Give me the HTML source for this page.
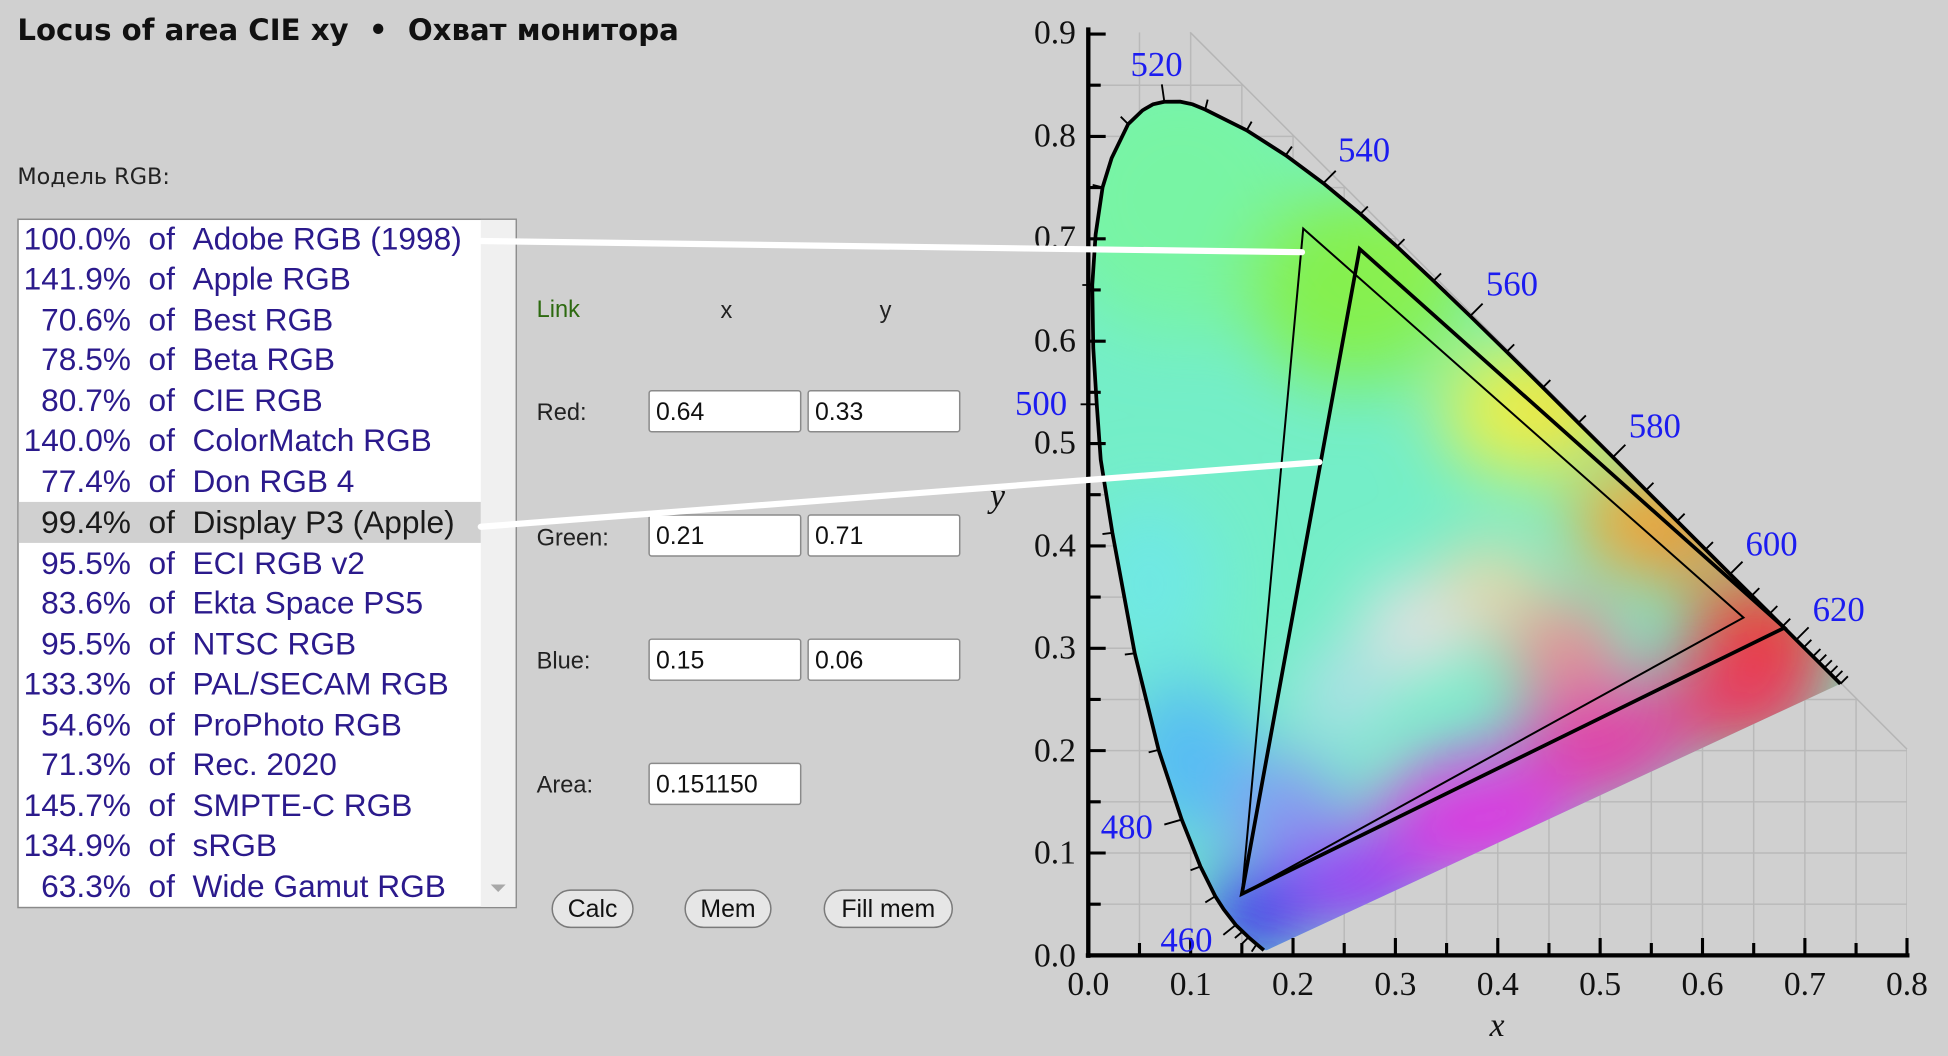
<!DOCTYPE html>
<html><head><meta charset="utf-8"><style>
html,body{margin:0;padding:0;background:#d0d0d0;}
svg{display:block;}
</style></head><body>
<svg width="1948" height="1056" viewBox="0 0 1568 850" preserveAspectRatio="none" xmlns="http://www.w3.org/2000/svg">
<defs>
<path id="lp" d="M1017.3,764.8 L1011.5,760 L1005,754.4 L994.7,744.5 L985,732 L978.2,721.4 L966.3,697.5 L951.2,659.7 L932.6,603.6 L913.4,525.9 L895.4,428.9 L886,370 L882.8,325.4 L880,280 L879.2,229.4 L881.9,188.7 L887.5,150.8 L894.8,127.2 L908.1,99.9 L919.7,88.8 L928,84 L937.2,81.9 L949.8,81.8 L960,84 L970.1,88.2 L1003.5,104.9 L1034.9,125 L1065.2,147.5 L1095,172.2 L1124.5,198.5 L1153.9,226.1 L1183.4,254.4 L1212.8,283.2 L1241.9,311.9 L1270.5,340.4 L1298.3,368 L1324.9,394.6 L1350,419.5 L1372.8,442.3 L1392.6,462.1 L1410.1,479.4 L1424.6,493.8 L1445.8,515 L1459.3,528.4 L1468.5,537.5 L1481.4,550.4"/>
<clipPath id="loc"><path d="M1019.5,764.9 L1017.3,764.8 L1011.5,760 L1005,754.4 L994.7,744.5 L985,732 L978.2,721.4 L966.3,697.5 L951.2,659.7 L932.6,603.6 L913.4,525.9 L895.4,428.9 L886,370 L882.8,325.4 L880,280 L879.2,229.4 L881.9,188.7 L887.5,150.8 L894.8,127.2 L908.1,99.9 L919.7,88.8 L928,84 L937.2,81.9 L949.8,81.8 L960,84 L970.1,88.2 L1003.5,104.9 L1034.9,125 L1065.2,147.5 L1095,172.2 L1124.5,198.5 L1153.9,226.1 L1183.4,254.4 L1212.8,283.2 L1241.9,311.9 L1270.5,340.4 L1298.3,368 L1324.9,394.6 L1350,419.5 L1372.8,442.3 L1392.6,462.1 L1410.1,479.4 L1424.6,493.8 L1445.8,515 L1459.3,528.4 L1468.5,537.5 L1481.4,550.4 Z"/></clipPath>
<clipPath id="gclip"><path d="M876,26 L958,26 L1535,603 L1535,769 L876,769 Z"/></clipPath>
<filter id="bl" x="-50%" y="-50%" width="200%" height="200%"><feGaussianBlur stdDeviation="28"/></filter>
</defs>
<rect width="1568" height="850" fill="#d0d0d0"/>
<g clip-path="url(#gclip)" stroke="#b9b9b9" stroke-width="1.2">
<path d="M917.2,26V769M958.4,26V769M999.6,26V769M1040.8,26V769M1082,26V769M1123.2,26V769M1164.4,26V769M1205.6,26V769M1246.8,26V769M1288,26V769M1329.2,26V769M1370.4,26V769M1411.6,26V769M1452.8,26V769M1494,26V769M1535,26V769"/>
<path d="M876,727.8H1535M876,686.6H1535M876,645.4H1535M876,604.2H1535M876,563H1535M876,521.8H1535M876,480.6H1535M876,439.4H1535M876,398.2H1535M876,357H1535M876,315.8H1535M876,274.6H1535M876,233.4H1535M876,192.2H1535M876,151H1535M876,109.8H1535M876,68.6H1535"/>
</g>
<path d="M958,26 L1535,603" stroke="#b5b5b5" stroke-width="1.2"/>
<g clip-path="url(#loc)">
<rect x="860" y="60" width="640" height="720" fill="#74eec8"/>
<g filter="url(#bl)">
<ellipse cx="950" cy="160" rx="110" ry="110" fill="#78f4a4"/>
<ellipse cx="1090" cy="230" rx="90" ry="80" fill="#84f050"/>
<ellipse cx="1150" cy="200" rx="50" ry="40" fill="#90f050"/>
<ellipse cx="1230" cy="330" rx="70" ry="55" fill="#e8f04c"/>
<ellipse cx="1270" cy="330" rx="40" ry="30" fill="#f0e040"/>
<ellipse cx="1325" cy="420" rx="60" ry="45" fill="#f0a838"/>
<ellipse cx="1360" cy="440" rx="40" ry="30" fill="#f09030"/>
<ellipse cx="1420" cy="510" rx="60" ry="45" fill="#ea3c30"/>
<ellipse cx="1400" cy="565" rx="70" ry="40" fill="#e83a60"/>
<ellipse cx="1290" cy="600" rx="70" ry="50" fill="#e040a8"/>
<ellipse cx="1190" cy="660" rx="80" ry="55" fill="#d83ce0"/>
<ellipse cx="1090" cy="710" rx="60" ry="40" fill="#9c34f4"/>
<ellipse cx="1010" cy="735" rx="40" ry="35" fill="#3018f0"/>
<ellipse cx="1030" cy="650" rx="50" ry="40" fill="#8a90f4"/>
<ellipse cx="955" cy="610" rx="55" ry="65" fill="#56bcf4"/>
<ellipse cx="925" cy="470" rx="55" ry="70" fill="#70e8e4"/>
<ellipse cx="1140" cy="505" rx="45" ry="40" fill="#e6e0e4"/>
<ellipse cx="1080" cy="560" rx="35" ry="35" fill="#b8dcec"/>
<ellipse cx="1200" cy="470" rx="40" ry="35" fill="#ecd8a8"/>
<ellipse cx="1260" cy="520" rx="50" ry="35" fill="#ec8a90"/>
</g>
</g>
<use href="#lp" fill="none" stroke="#000" stroke-width="3" stroke-linejoin="round"/>
<g stroke="#000" stroke-width="1.5">
<path d="M994.7,744.5l-10,8M978.2,721.4l-8,5M966.3,697.5l-8,3M951.2,659.7l-14,4M932.6,603.6l-8,2M913.4,525.9l-8,1M895.4,428.9l-8,1M882.8,325.4l-13,0M879.2,229.4l-8,0M887.5,150.8l-8,-2M908.1,99.9l-6,-6M937.2,81.9l-2,-14M970.1,88.2l2,-8M1003.5,104.9l4,-7M1034.9,125l5,-7M1065.2,147.5l10,-10M1095,172.2l6,-6M1124.5,198.5l6,-6M1153.9,226.1l6,-6M1183.4,254.4l10,-10M1212.8,283.2l6,-6M1241.9,311.9l6,-6M1270.5,340.4l6,-6M1298.3,368l10,-10M1324.9,394.6l6,-6M1350,419.5l6,-6M1372.8,442.3l6,-6M1392.6,462.1l10,-10M1410.1,479.4l6,-6M1424.6,493.8l6,-6M1435,504l6,-6M1445.8,515l10,-10M1452,521l6,-6M1459.3,528.4l6,-6M1464,533l6,-6M1468.5,537.5l6,-6M1473,542l6,-6M1477,546l6,-6M1481.4,550.4l6,-6M1000,750l-6,5M1005,754.4l-5,5M1011.5,760l-4,6"/>
</g>
<path d="M1403.4,497.1 L1049,184 L999.6,719.6 Z" fill="none" stroke="#000" stroke-width="1.6"/>
<path d="M1436.3,505.3 L1094.4,200.4 L999.6,719.6 Z" fill="none" stroke="#000" stroke-width="3"/>
<g stroke="#000">
<path d="M876,22V771M874,769H1537" stroke-width="3.5"/>
<path d="M876,727.8h10M876,686.6h14M876,645.4h10M876,604.2h14M876,563h10M876,521.8h14M876,480.6h10M876,439.4h14M876,398.2h10M876,357h14M876,315.8h10M876,274.6h14M876,233.4h10M876,192.2h14M876,151h10M876,109.8h14M876,68.6h10M876,27.4h14" stroke-width="2.5"/>
<path d="M917.2,769v-10M958.4,769v-14M999.6,769v-10M1040.8,769v-14M1082,769v-10M1123.2,769v-14M1164.4,769v-10M1205.6,769v-14M1246.8,769v-10M1288,769v-14M1329.2,769v-10M1370.4,769v-14M1411.6,769v-10M1452.8,769v-14M1494,769v-10M1535,769v-14" stroke-width="2.5"/>
</g>
<g font-family="Liberation Serif, serif" font-size="27" fill="#111">
<text x="866" y="35" text-anchor="end">0.9</text>
<text x="866" y="118" text-anchor="end">0.8</text>
<text x="866" y="200" text-anchor="end">0.7</text>
<text x="866" y="283" text-anchor="end">0.6</text>
<text x="866" y="365" text-anchor="end">0.5</text>
<text x="866" y="448" text-anchor="end">0.4</text>
<text x="866" y="530" text-anchor="end">0.3</text>
<text x="866" y="613" text-anchor="end">0.2</text>
<text x="866" y="695" text-anchor="end">0.1</text>
<text x="866" y="778" text-anchor="end">0.0</text>
<text x="876" y="801" text-anchor="middle">0.0</text>
<text x="958.4" y="801" text-anchor="middle">0.1</text>
<text x="1040.8" y="801" text-anchor="middle">0.2</text>
<text x="1123.2" y="801" text-anchor="middle">0.3</text>
<text x="1205.6" y="801" text-anchor="middle">0.4</text>
<text x="1288" y="801" text-anchor="middle">0.5</text>
<text x="1370.4" y="801" text-anchor="middle">0.6</text>
<text x="1452.8" y="801" text-anchor="middle">0.7</text>
<text x="1535" y="801" text-anchor="middle">0.8</text>
<text x="1205" y="834" font-style="italic" text-anchor="middle">x</text>
<text x="803" y="408" font-style="italic" text-anchor="middle">y</text>
</g>
<g font-family="Liberation Serif, serif" font-size="28" fill="#1c1cf0">
<text x="910" y="61">520</text>
<text x="1077" y="130">540</text>
<text x="1196" y="238">560</text>
<text x="1311" y="352">580</text>
<text x="1405" y="447">600</text>
<text x="1459" y="500">620</text>
<text x="817" y="334">500</text>
<text x="886" y="675">480</text>
<text x="934" y="766">460</text>
</g>
<text x="14" y="32" font-family="'DejaVu Sans', sans-serif" font-weight="bold" font-size="23.5" fill="#111">Locus of area CIE xy&#160;&#160;•&#160;&#160;Охват монитора</text>
<text x="14" y="148" font-family="'DejaVu Sans', sans-serif" font-size="18" fill="#222">Модель RGB:</text>
<rect x="14.5" y="176.5" width="401" height="554" fill="#fff" stroke="#8a8a8a" stroke-width="1.2"/>
<rect x="387" y="177" width="28" height="553" fill="#f0f0f0"/>
<path d="M395,712 l6,6 l6,-6z" fill="#a8a8a8"/>
<rect x="15" y="404" width="372" height="33" fill="#d0d0d0"/>
<g font-family="Liberation Sans, sans-serif" font-size="25.5" fill="#2b1a8c">
<text x="19" y="201">100.0%&#160;&#160;of&#160;&#160;Adobe RGB (1998)</text>
<text x="19" y="233">141.9%&#160;&#160;of&#160;&#160;Apple RGB</text>
<text x="19" y="266">&#160;&#160;70.6%&#160;&#160;of&#160;&#160;Best RGB</text>
<text x="19" y="298">&#160;&#160;78.5%&#160;&#160;of&#160;&#160;Beta RGB</text>
<text x="19" y="331">&#160;&#160;80.7%&#160;&#160;of&#160;&#160;CIE RGB</text>
<text x="19" y="363">140.0%&#160;&#160;of&#160;&#160;ColorMatch RGB</text>
<text x="19" y="396">&#160;&#160;77.4%&#160;&#160;of&#160;&#160;Don RGB 4</text>
<text x="19" y="429" fill="#1a1a1a">&#160;&#160;99.4%&#160;&#160;of&#160;&#160;Display P3 (Apple)</text>
<text x="19" y="462">&#160;&#160;95.5%&#160;&#160;of&#160;&#160;ECI RGB v2</text>
<text x="19" y="494">&#160;&#160;83.6%&#160;&#160;of&#160;&#160;Ekta Space PS5</text>
<text x="19" y="527">&#160;&#160;95.5%&#160;&#160;of&#160;&#160;NTSC RGB</text>
<text x="19" y="559">133.3%&#160;&#160;of&#160;&#160;PAL/SECAM RGB</text>
<text x="19" y="592">&#160;&#160;54.6%&#160;&#160;of&#160;&#160;ProPhoto RGB</text>
<text x="19" y="624">&#160;&#160;71.3%&#160;&#160;of&#160;&#160;Rec. 2020</text>
<text x="19" y="657">145.7%&#160;&#160;of&#160;&#160;SMPTE-C RGB</text>
<text x="19" y="689">134.9%&#160;&#160;of&#160;&#160;sRGB</text>
<text x="19" y="722">&#160;&#160;63.3%&#160;&#160;of&#160;&#160;Wide Gamut RGB</text>
</g>
<g font-family="Liberation Sans, sans-serif" font-size="19" fill="#222">
<text x="432" y="255" fill="#2d6a10">Link</text>
<text x="580" y="256">x</text>
<text x="708" y="256">y</text>
<text x="432" y="338">Red:</text>
<text x="432" y="439">Green:</text>
<text x="432" y="538">Blue:</text>
<text x="432" y="638">Area:</text>
</g>
<g fill="#fff" stroke="#8a8a8a" stroke-width="1.2">
<rect x="522.5" y="314.5" width="122" height="33" rx="2"/>
<rect x="650.5" y="314.5" width="122" height="33" rx="2"/>
<rect x="522.5" y="414.5" width="122" height="33" rx="2"/>
<rect x="650.5" y="414.5" width="122" height="33" rx="2"/>
<rect x="522.5" y="514.5" width="122" height="33" rx="2"/>
<rect x="650.5" y="514.5" width="122" height="33" rx="2"/>
<rect x="522.5" y="614.5" width="122" height="33" rx="2"/>
</g>
<g font-family="Liberation Sans, sans-serif" font-size="20" fill="#111">
<text x="528" y="338">0.64</text><text x="656" y="338">0.33</text>
<text x="528" y="438">0.21</text><text x="656" y="438">0.71</text>
<text x="528" y="538">0.15</text><text x="656" y="538">0.06</text>
<text x="528" y="638">0.151150</text>
</g>
<g fill="#e6e6e6" stroke="#7a7a7a" stroke-width="1.2">
<rect x="444.5" y="716.5" width="65" height="30" rx="15"/>
<rect x="551.5" y="716.5" width="69" height="30" rx="15"/>
<rect x="663.5" y="716.5" width="103" height="30" rx="15"/>
</g>
<g font-family="Liberation Sans, sans-serif" font-size="20" fill="#111" text-anchor="middle">
<text x="477" y="738">Calc</text>
<text x="586" y="738">Mem</text>
<text x="715" y="738">Fill mem</text>
</g>
<path d="M387,194 L1048,203M387,424 L1062,372" stroke="#fff" stroke-width="5" stroke-linecap="round"/>
</svg>
</body></html>
